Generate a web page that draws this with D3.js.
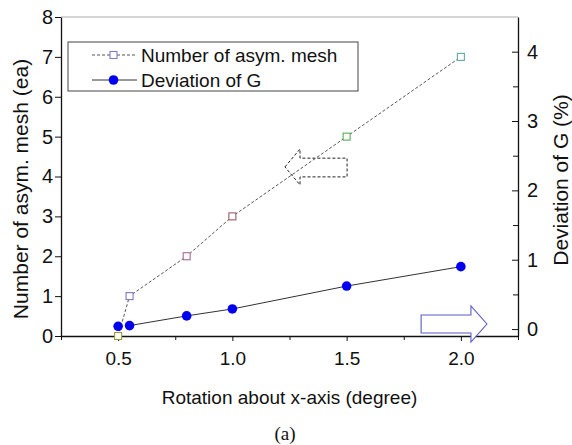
<!DOCTYPE html>
<html><head><meta charset="utf-8">
<script src="https://cdn.jsdelivr.net/npm/d3@7"></script>
<style>
html,body{margin:0;padding:0;background:#fff;}
text{font-family:"Liberation Sans",Arial,sans-serif;fill:#111;}
</style></head>
<body><svg id="c" width="572" height="445"></svg>
<script>
const rotation = [0.5, 0.55, 0.8, 1.0, 1.5, 2.0];
const asymMesh = [0, 1, 2, 3, 5, 7];
const meshColors = ["#99993a", "#7a78bb", "#a8669a", "#9a5a6a", "#5aaa5a", "#5fa9a9"];
const rotationG = [0.5, 0.55, 0.8, 1.0, 1.5, 2.0];
const deviationG = [0.04, 0.05, 0.19, 0.29, 0.62, 0.90];
const xTicks = [0.5, 1.0, 1.5, 2.0];
const xMinorTicks = [0.25, 0.75, 1.25, 1.75, 2.25];
const yLeftTicks = [0, 1, 2, 3, 4, 5, 6, 7, 8];
const yRightTicks = [0, 1, 2, 3, 4];
const yRightMinor = [0.5, 1.5, 2.5, 3.5];
const legendLabels = ["Number of asym. mesh", "Deviation of G"];
// annotation arrows (data units)
const leftArrow = [[1.230,4.24],[1.296,4.69],[1.296,4.46],[1.502,4.46],[1.502,3.99],[1.296,3.99],[1.296,3.79]];
const rightArrow = [[1.826,0.203],[2.044,0.203],[2.044,0.333],[2.114,0.073],[2.044,-0.187],[2.044,-0.057],[1.826,-0.057]];

const svg = d3.select("#c");
const L = 61, R = 518, T = 17, B = 336;
const x = d3.scaleLinear().domain([0.25, 2.25]).range([L, R]);
const yL = d3.scaleLinear().domain([0, 8]).range([B, T]);
const yR = d3.scaleLinear().domain([-0.1, 4.5]).range([B, T]);
const FS = 19;

// top border
svg.append("line").attr("x1", L).attr("x2", R).attr("y1", T).attr("y2", T)
  .attr("stroke", "#c8c8c8").attr("stroke-width", 1.5);

// bottom axis
const gx = svg.append("g").attr("transform", `translate(0,${B})`);
gx.call(d3.axisBottom(x).tickValues(xMinorTicks).tickSize(4).tickFormat(""));
gx.call(g => g.select(".domain").remove());
const gx2 = svg.append("g").attr("transform", `translate(0,${B})`)
  .call(d3.axisBottom(x).tickValues(xTicks).tickSize(5).tickSizeOuter(0).tickFormat(d3.format(".1f")));
gx2.selectAll("text").attr("font-size", FS).attr("dy", "1.1em").attr("fill", "#111");
gx2.select(".domain").attr("stroke", "#111").attr("stroke-width", 1.3);

// left axis
const gl = svg.append("g").attr("transform", `translate(${L},0)`)
  .call(d3.axisLeft(yL).tickValues(yLeftTicks).tickSize(6).tickSizeOuter(0).tickFormat(d3.format("d")));
gl.selectAll("text").attr("font-size", FS + 1).attr("x", -8).attr("fill", "#111");
gl.select(".domain").attr("stroke", "#111").attr("stroke-width", 1.3);

// right axis (ticks inward)
const gr = svg.append("g").attr("transform", `translate(${R},0)`);
gr.call(d3.axisRight(yR).tickValues(yRightMinor).tickSize(-5).tickFormat(""));
gr.select(".domain").remove();
const gr2 = svg.append("g").attr("transform", `translate(${R},0)`)
  .call(d3.axisRight(yR).tickValues(yRightTicks).tickSize(-6).tickSizeOuter(0).tickFormat(d3.format("d")));
gr2.selectAll("text").attr("font-size", FS + 1).attr("x", 9).attr("fill", "#111");
gr2.select(".domain").attr("stroke", "#111").attr("stroke-width", 1.3);
svg.selectAll("g line").attr("stroke", "#111");

// axis titles
svg.append("text").attr("x", (L + R) / 2).attr("y", 404).attr("text-anchor", "middle")
  .attr("font-size", FS).text("Rotation about x-axis (degree)");
svg.append("text").attr("transform", `translate(28,189) rotate(-90)`).attr("text-anchor", "middle")
  .attr("font-size", 21).text("Number of asym. mesh (ea)");
svg.append("text").attr("transform", `translate(568,180) rotate(-90)`).attr("text-anchor", "middle")
  .attr("font-size", 21).text("Deviation of G (%)");
svg.append("text").attr("x", 285).attr("y", 440).attr("text-anchor", "middle")
  .attr("font-size", 19).style("font-family", "'Liberation Serif','Times New Roman',serif").text("(a)");

// annotation arrows
const ptLine = d3.line().x(d => x(d[0])).y(d => yL(d[1])).curve(d3.curveLinearClosed);
svg.append("path").datum(leftArrow).attr("d", ptLine)
  .attr("fill", "none").attr("stroke", "#222").attr("stroke-width", 1).attr("stroke-dasharray", "3,2");
const ptLineR = d3.line().x(d => x(d[0])).y(d => yR(d[1])).curve(d3.curveLinearClosed);
svg.append("path").datum(rightArrow).attr("d", ptLineR)
  .attr("fill", "#fff").attr("stroke", "#5a5ac8").attr("stroke-width", 1.1);

// series 1: asym mesh (dashed)
const meshData = rotation.map((r, i) => ({x: r, y: asymMesh[i], c: meshColors[i]}));
svg.append("path").datum(meshData)
  .attr("d", d3.line().x(d => x(d.x)).y(d => yL(d.y)))
  .attr("fill", "none").attr("stroke", "#555").attr("stroke-width", 1).attr("stroke-dasharray", "3,2");
svg.selectAll(".sq").data(meshData).enter().append("rect")
  .attr("x", d => x(d.x) - 3.5).attr("y", d => yL(d.y) - 3.5)
  .attr("width", 7).attr("height", 7).attr("fill", "#fff").attr("stroke", d => d.c).attr("stroke-width", 1.1);

// series 2: deviation of G (solid)
const devData = rotationG.map((r, i) => ({x: r, y: deviationG[i]}));
svg.append("path").datum(devData.slice(1))
  .attr("d", d3.line().x(d => x(d.x)).y(d => yR(d.y)))
  .attr("fill", "none").attr("stroke", "#333").attr("stroke-width", 1);
svg.selectAll(".dot").data(devData).enter().append("circle")
  .attr("cx", d => x(d.x)).attr("cy", d => yR(d.y)).attr("r", 4.8).attr("fill", "#0000f0");

// legend
svg.append("rect").attr("x", 68).attr("y", 42).attr("width", 290).attr("height", 49)
  .attr("fill", "#fff").attr("stroke", "#444").attr("stroke-width", 1);
const ly = [55, 80];
svg.append("line").attr("x1", 92).attr("x2", 137).attr("y1", ly[0]).attr("y2", ly[0])
  .attr("stroke", "#555").attr("stroke-dasharray", "3,2");
svg.append("rect").attr("x", 110).attr("y", ly[0] - 3.5).attr("width", 7).attr("height", 7)
  .attr("fill", "#fff").attr("stroke", "#8877cc").attr("stroke-width", 1.1);
svg.append("line").attr("x1", 92).attr("x2", 137).attr("y1", ly[1]).attr("y2", ly[1]).attr("stroke", "#333");
svg.append("circle").attr("cx", 113.5).attr("cy", ly[1]).attr("r", 4.8).attr("fill", "#0000f0");
legendLabels.forEach((t, i) => {
  svg.append("text").attr("x", 141).attr("y", ly[i] + 7).attr("font-size", FS).text(t);
});
</script></body></html>
